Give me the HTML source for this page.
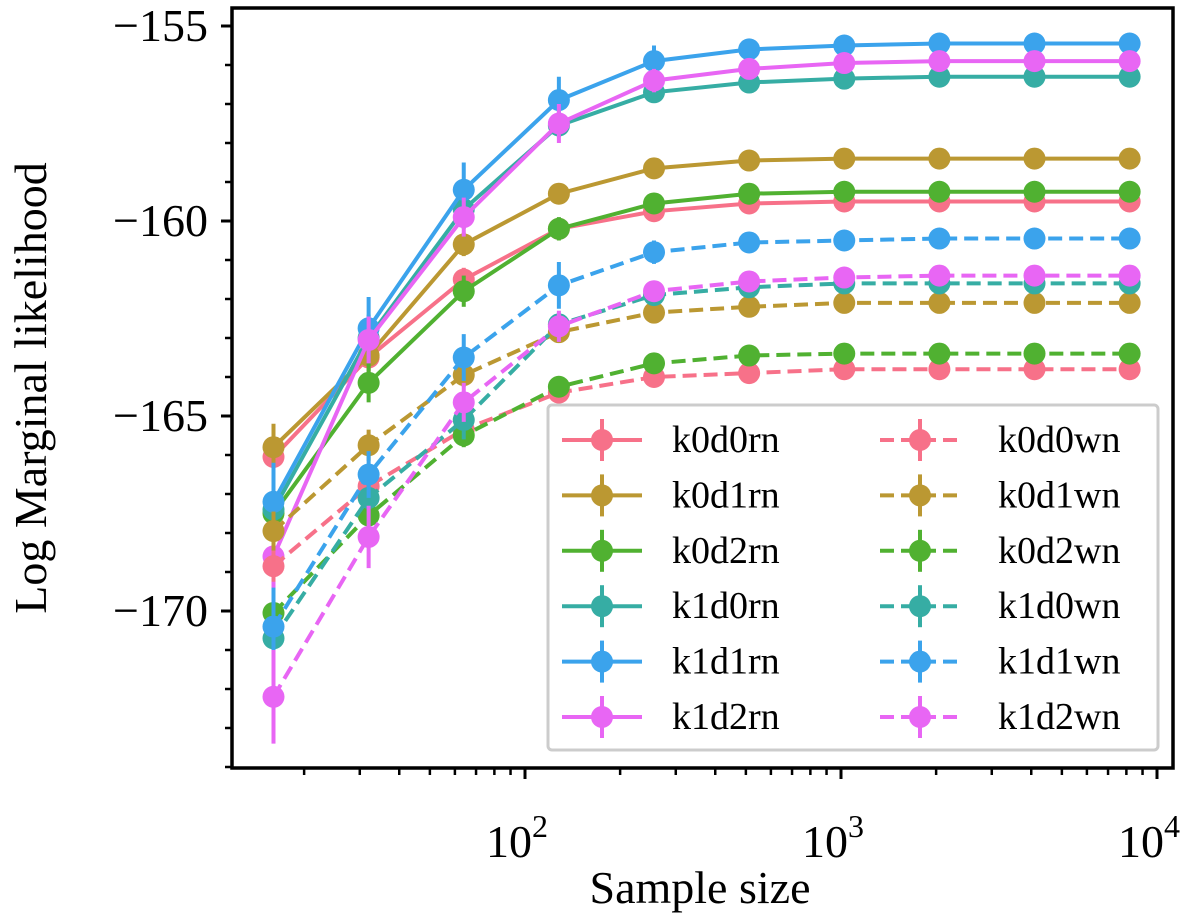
<!DOCTYPE html>
<html><head><meta charset="utf-8"><style>
body{margin:0;background:#fff}
svg{display:block;font-family:"Liberation Serif",serif}
</style></head><body>
<svg id="chart" width="1200" height="920" xmlns="http://www.w3.org/2000/svg"></svg>
<script>
const sampleSizes=[16,32,64,128,256,512,1024,2048,4096,8192];
const seriesNames=["k0d0rn","k0d1rn","k0d2rn","k1d0rn","k1d1rn","k1d2rn","k0d0wn","k0d1wn","k0d2wn","k1d0wn","k1d1wn","k1d2wn"];
const seriesColors=["#f77189","#bb9832","#50b131","#36ada4","#3ba3ec","#e866f4","#f77189","#bb9832","#50b131","#36ada4","#3ba3ec","#e866f4"];
const k0d0rn=[-166.05,-163.5,-161.5,-160.2,-159.75,-159.55,-159.5,-159.5,-159.5,-159.5];
const k0d1rn=[-165.8,-163.45,-160.6,-159.3,-158.65,-158.45,-158.4,-158.4,-158.4,-158.4];
const k0d2rn=[-167.5,-164.15,-161.8,-160.2,-159.55,-159.3,-159.25,-159.25,-159.25,-159.25];
const k1d0rn=[-167.4,-163.0,-159.7,-157.55,-156.7,-156.45,-156.35,-156.3,-156.3,-156.3];
const k1d1rn=[-167.2,-162.75,-159.2,-156.9,-155.9,-155.6,-155.5,-155.45,-155.45,-155.45];
const k1d2rn=[-168.6,-163.05,-159.9,-157.5,-156.4,-156.1,-155.95,-155.9,-155.9,-155.9];
const k0d0wn=[-168.85,-166.8,-165.35,-164.4,-164.0,-163.9,-163.8,-163.8,-163.8,-163.8];
const k0d1wn=[-167.95,-165.75,-163.95,-162.85,-162.35,-162.2,-162.1,-162.1,-162.1,-162.1];
const k0d2wn=[-170.05,-167.55,-165.5,-164.25,-163.65,-163.45,-163.4,-163.4,-163.4,-163.4];
const k1d0wn=[-170.7,-167.1,-165.1,-162.65,-161.9,-161.7,-161.6,-161.6,-161.6,-161.6];
const k1d1wn=[-170.4,-166.5,-163.5,-161.65,-160.8,-160.55,-160.5,-160.45,-160.45,-160.45];
const k1d2wn=[-172.2,-168.1,-164.65,-162.7,-161.8,-161.55,-161.45,-161.4,-161.4,-161.4];
const errK0d0rn=[0.5,0.4,0.3,0.2,0.1,0.05,0.05,0.05,0.05,0.05];
const errK0d1rn=[0.6,0.4,0.3,0.2,0.1,0.05,0.05,0.05,0.05,0.05];
const errK0d2rn=[0.5,0.5,0.4,0.3,0.1,0.05,0.05,0.05,0.05,0.05];
const errK1d0rn=[0.8,0.6,0.5,0.3,0.2,0.1,0.05,0.05,0.05,0.05];
const errK1d1rn=[1.0,0.8,0.7,0.6,0.4,0.1,0.05,0.05,0.05,0.05];
const errK1d2rn=[1.0,0.6,0.5,0.5,0.3,0.1,0.05,0.05,0.05,0.05];
const errK0d0wn=[0.4,0.4,0.3,0.2,0.1,0.05,0.05,0.05,0.05,0.05];
const errK0d1wn=[0.5,0.4,0.3,0.2,0.1,0.05,0.05,0.05,0.05,0.05];
const errK0d2wn=[0.5,0.4,0.3,0.2,0.1,0.05,0.05,0.05,0.05,0.05];
const errK1d0wn=[0.8,0.5,0.5,0.3,0.2,0.1,0.05,0.05,0.05,0.05];
const errK1d1wn=[1.0,0.6,0.6,0.6,0.3,0.1,0.05,0.05,0.05,0.05];
const errK1d2wn=[1.2,0.8,0.5,0.4,0.2,0.1,0.05,0.05,0.05,0.05];
const seriesValues=[k0d0rn,k0d1rn,k0d2rn,k1d0rn,k1d1rn,k1d2rn,k0d0wn,k0d1wn,k0d2wn,k1d0wn,k1d1wn,k1d2wn];
const seriesErrors=[errK0d0rn,errK0d1rn,errK0d2rn,errK1d0rn,errK1d1rn,errK1d2rn,errK0d0wn,errK0d1wn,errK0d2wn,errK1d0wn,errK1d1wn,errK1d2wn];
const yTickValues=[-155,-160,-165,-170];
const yTickLabels=["\u2212155","\u2212160","\u2212165","\u2212170"];
const xTickExps=[2,3,4];

const NS="http://www.w3.org/2000/svg";
const svg=document.getElementById('chart');
const L=232,R=1173,T=8,B=768;
function xs(v){return 841+(Math.log10(v)-3)*316;}
function ys(v){return 26+(-155-v)*39;}
function el(tag,attrs,parent){const e=document.createElementNS(NS,tag);for(const k in attrs)e.setAttribute(k,attrs[k]);(parent||svg).appendChild(e);return e;}

const plot=el('g',{});


seriesValues.forEach((vals,si)=>{
  const g=el('g',{},plot);
  
  
  const col=seriesColors[si];
  const dashed=si>=6;
  const pts=vals.map((v,i)=>xs(sampleSizes[i]).toFixed(1)+','+ys(v).toFixed(1)).join(' ');
  const pl=el('polyline',{points:pts,fill:'none',stroke:col,'stroke-width':4},g);
  if(dashed)pl.setAttribute('stroke-dasharray','14,7');
  
  
  vals.forEach((v,i)=>{
    const x=xs(sampleSizes[i]),e=seriesErrors[si][i];
    const eb=el('line',{x1:x,x2:x,y1:ys(v-e),y2:ys(v+e),stroke:col,'stroke-width':4},g);
    
    
    const c=el('circle',{cx:x,cy:ys(v),r:11,fill:col},g);
    
    
  });
});
const frame=el('rect',{x:L,y:T,width:R-L,height:B-T,fill:'none',stroke:'#000','stroke-width':3.5});


for(let v=-155;v>=-174;v--){
  const y=ys(v);const major=yTickValues.includes(v);
  const t=el('line',{x1:L,x2:L-(major?11:7),y1:y,y2:y,stroke:'#000','stroke-width':major?3:2.5});
  
  
}
yTickValues.forEach((v,i)=>{
  const t=el('text',{x:208,y:ys(v)+15,'text-anchor':'end','font-size':46});
  t.textContent=yTickLabels[i];
  
  
});
for(let d=1;d<=3;d++){for(let m=1;m<=9;m++){
  const v=m*Math.pow(10,d);const x=xs(v);if(x<L||x>R)continue;
  const major=m===1;
  const t=el('line',{x1:x,x2:x,y1:B,y2:B+(major?11:7),stroke:'#000','stroke-width':major?3:2.5});
  
  
}}
const t4=el('line',{x1:xs(10000),x2:xs(10000),y1:B,y2:B+11,stroke:'#000','stroke-width':3});


xTickExps.forEach(p=>{
  const t=el('text',{x:xs(Math.pow(10,p))-8,y:857,'text-anchor':'middle','font-size':46});
  t.textContent='10';
  
  
  const s=el('tspan',{dy:-20,'font-size':32});s.textContent=String(p);t.appendChild(s);
});
const xt=el('text',{x:700,y:903,'text-anchor':'middle','font-size':46});
xt.textContent='Sample size';


const yt=el('text',{x:0,y:0,'text-anchor':'middle','font-size':46,transform:'translate(46,388) rotate(-90)'});
yt.textContent='Log Marginal likelihood';


const lg=el('g',{});


el('rect',{x:548,y:405,width:610,height:345,fill:'#fff','fill-opacity':0.85,stroke:'#ccc','stroke-width':3,rx:4},lg);
seriesNames.forEach((n,si)=>{
  const col=seriesColors[si];const c=si<6?0:1;const r=si%6;
  const y=440+r*55.4;const x0=c?880:562;
  const g=el('g',{},lg);
  
  
  const l=el('line',{x1:x0,x2:x0+80,y1:y,y2:y,stroke:col,'stroke-width':4},g);
  if(si>=6)l.setAttribute('stroke-dasharray','14,7');
  el('line',{x1:x0+40,x2:x0+40,y1:y-21,y2:y+21,stroke:col,'stroke-width':4},g);
  el('circle',{cx:x0+40,cy:y,r:11,fill:col},g);
  const t=el('text',{x:c?998:672,y:y+12,'font-size':38},g);
  t.textContent=n;
});
</script>
</body></html>
